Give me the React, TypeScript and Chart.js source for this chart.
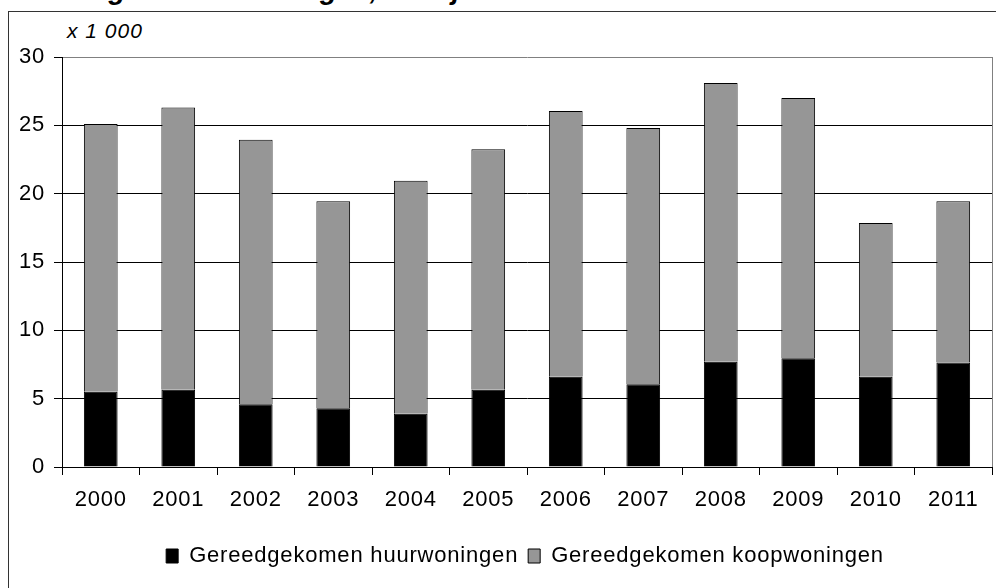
import React, { useEffect, useRef } from "react";
import { Chart, registerables } from "chart.js";

Chart.register(...registerables);

const years = ["2000", "2001", "2002", "2003", "2004", "2005", "2006", "2007", "2008", "2009", "2010", "2011"];
const huurwoningen = [5.5, 5.65, 4.6, 4.3, 3.9, 5.65, 6.6, 6.05, 7.7, 7.95, 6.6, 7.65];
const koopwoningen = [19.6, 20.65, 19.35, 15.15, 17.05, 17.6, 19.45, 18.75, 20.4, 19.05, 11.25, 11.8];
const seriesLabels = ["Gereedgekomen huurwoningen", "Gereedgekomen koopwoningen"];
const yMin = 0;
const yMax = 30;
const yStep = 5;
const unitLabel = "x 1 000";
const titleText = "Gereedgekomen woningen, naar jaar";

const FONT = "'Liberation Sans', Arial, sans-serif";
const FONT_SIZE = 22;
const SPACING = "0.8px";

const spacingPlugin = {
  id: "spacing",
  beforeLayout(chart: any) {
    chart.ctx.letterSpacing = SPACING;
  },
  afterLayout(chart: any) {
    const l = chart.legend;
    if (l) {
      l.left += 29;
      l.right += 29;
    }
  },
  beforeDraw(chart: any) {
    chart.ctx.letterSpacing = SPACING;
  },
  afterDraw(chart: any) {
    const { ctx, chartArea } = chart;
    ctx.save();
    ctx.strokeStyle = "#808080";
    ctx.lineWidth = 1;
    ctx.beginPath();
    const x = Math.round(chartArea.right) + 0.5;
    ctx.moveTo(x, chartArea.top);
    ctx.lineTo(x, chartArea.bottom);
    ctx.stroke();
    ctx.restore();
  },
};

export default function App() {
  const ref = useRef<HTMLCanvasElement | null>(null);

  useEffect(() => {
    if (!ref.current) return;
    const chart = new Chart(ref.current, {
      type: "bar",
      data: {
        labels: years,
        datasets: [
          {
            label: seriesLabels[0],
            data: huurwoningen,
            backgroundColor: "#000000",
            borderColor: "#000000",
            borderWidth: 1,
            categoryPercentage: 1,
            barPercentage: 0.435,
          },
          {
            label: seriesLabels[1],
            data: koopwoningen,
            backgroundColor: "#969696",
            borderColor: "#000000",
            borderWidth: 1,
            categoryPercentage: 1,
            barPercentage: 0.435,
          },
        ],
      },
      options: {
        responsive: false,
        animation: false,
        layout: { padding: { left: 0, top: 57, right: 4, bottom: 11 } },
        plugins: {
          legend: {
            position: "bottom",
            labels: {
              font: { family: FONT, size: FONT_SIZE },
              color: "#000",
              boxWidth: 12,
              boxHeight: 14,
              padding: 10,
            },
          },
          tooltip: { enabled: false },
          title: { display: false },
        },
        scales: {
          x: {
            stacked: true,
            grid: {
              display: true,
              drawOnChartArea: false,
              drawTicks: true,
              tickLength: 8,
              offset: true,
              color: "#000",
              tickColor: "#000",
            },
            border: { color: "#000", width: 1 },
            ticks: { color: "#000", font: { family: FONT, size: FONT_SIZE }, padding: 12, maxRotation: 0 },
            afterFit: (s: any) => {
              s.height = 68;
            },
          },
          y: {
            stacked: true,
            min: yMin,
            max: yMax,
            ticks: { stepSize: yStep, color: "#000", font: { family: FONT, size: FONT_SIZE }, padding: 9 },
            grid: {
              color: (c: any) => (c.tick && c.tick.value === yMax ? "#808080" : "#000"),
              tickColor: "#000",
              tickLength: 8,
            },
            border: { color: "#000", width: 1 },
            afterFit: (s: any) => {
              s.width = 62;
            },
          },
        },
      },
      plugins: [spacingPlugin],
    });
    return () => chart.destroy();
  }, []);

  return (
    <div style={{ position: "fixed", left: 0, top: 0, width: 996, height: 588, overflow: "hidden", background: "#fff" }}>
      <div
        style={{
          position: "absolute",
          left: 12,
          top: -26,
          font: `italic bold 28px ${FONT}`,
          whiteSpace: "nowrap",
          color: "#000",
        }}
      >
        {titleText}
      </div>
      <div
        style={{
          position: "absolute",
          left: 8,
          top: 11,
          width: 1100,
          height: 700,
          border: "1px solid #333",
        }}
      />
      <div
        style={{
          position: "absolute",
          left: 67,
          top: 19,
          font: `italic 21px ${FONT}`,
          letterSpacing: "1px",
          whiteSpace: "nowrap",
          color: "#000",
        }}
      >
        {unitLabel}
      </div>
      <canvas ref={ref} width={996} height={588} style={{ position: "absolute", left: 0, top: 0, width: 996, height: 588 }} />
    </div>
  );
}
